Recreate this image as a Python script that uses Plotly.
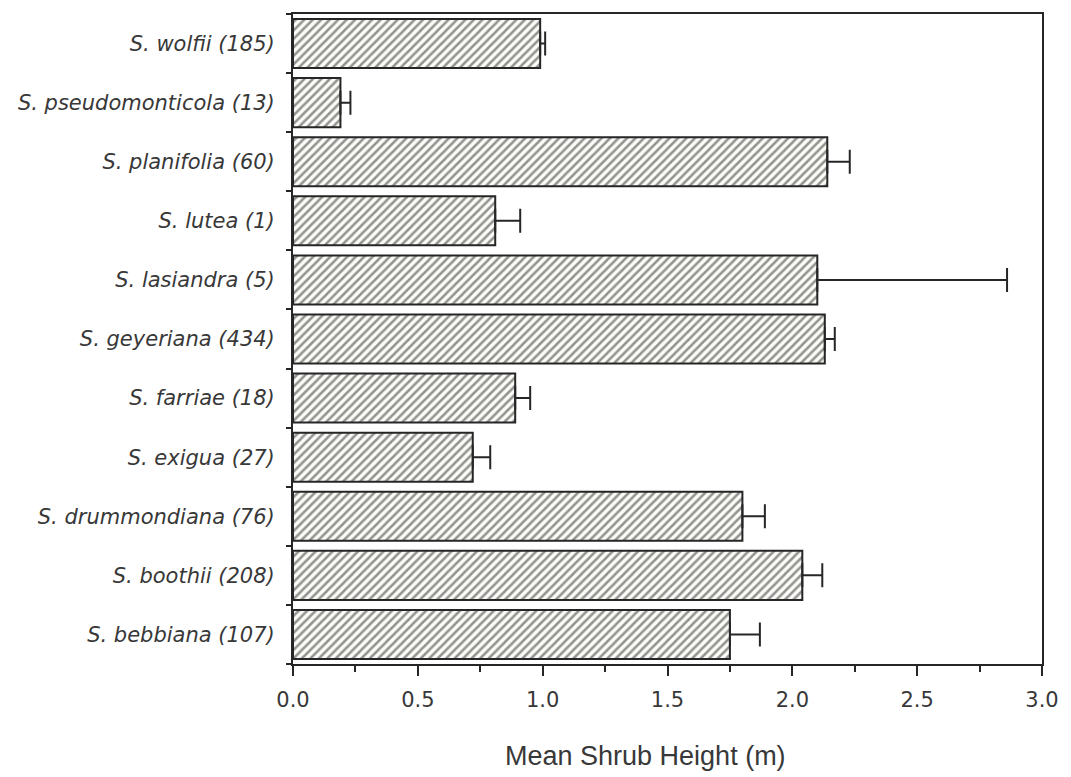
import plotly.graph_objects as go

# Willow species (sample size) listed bottom to top
species = [
    "S. bebbiana (107)",
    "S. boothii (208)",
    "S. drummondiana (76)",
    "S. exigua (27)",
    "S. farriae (18)",
    "S. geyeriana (434)",
    "S. lasiandra (5)",
    "S. lutea (1)",
    "S. planifolia (60)",
    "S. pseudomonticola (13)",
    "S. wolfii (185)",
]
mean_height = [1.75, 2.04, 1.80, 0.72, 0.89, 2.13, 2.10, 0.81, 2.14, 0.19, 0.99]
std_error = [0.12, 0.08, 0.09, 0.07, 0.06, 0.04, 0.76, 0.10, 0.09, 0.04, 0.02]
x_ticks = [0.0, 0.5, 1.0, 1.5, 2.0, 2.5, 3.0]

ink = "#262626"
text_col = "#383838"

fig = go.Figure(
    go.Bar(
        y=species,
        x=mean_height,
        orientation="h",
        marker=dict(
            color="#fcfcf8",
            line=dict(color=ink, width=2),
            pattern=dict(shape="/", size=6, solidity=0.42,
                         fgcolor="#2a2a2a", bgcolor="#fcfcf8"),
        ),
        error_x=dict(
            type="data", symmetric=False,
            array=std_error, arrayminus=[0] * len(std_error),
            color=ink, thickness=2, width=12,
        ),
    )
)

fig.update_layout(
    width=1071, height=777,
    margin=dict(l=293, r=28, t=12, b=113),
    paper_bgcolor="white", plot_bgcolor="white",
    bargap=0.17,
    showlegend=False,
    annotations=[
        dict(text="Mean Shrub Height (m)", xref="paper", yref="paper",
             x=0.47, y=-0.142, xanchor="center", yanchor="middle",
             showarrow=False,
             font=dict(family="Liberation Sans, Arial", size=27, color=text_col)),
    ],
)

fig.update_xaxes(
    range=[0, 3.0], tickvals=x_ticks, tickformat=".1f",
    ticks="outside", ticklen=10, tickwidth=2, tickcolor=ink,
    minor=dict(dtick=0.25, ticks="outside", ticklen=6, tickwidth=2, tickcolor=ink),
    showline=True, linewidth=2, linecolor=ink, mirror=True,
    showgrid=False, zeroline=False,
    tickfont=dict(family="DejaVu Sans", size=21, color=text_col),
    ticklabelstandoff=6,
)
fig.update_yaxes(
    categoryorder="array", categoryarray=species,
    tickson="boundaries", ticks="outside", ticklen=5, tickwidth=2, tickcolor=ink,
    showline=True, linewidth=2, linecolor=ink, mirror=True,
    showgrid=False, zeroline=False,
    tickfont=dict(family="DejaVu Sans", size=21, color=text_col, style="italic"),
    ticklabelstandoff=12,
)

fig.write_html("out.html")
